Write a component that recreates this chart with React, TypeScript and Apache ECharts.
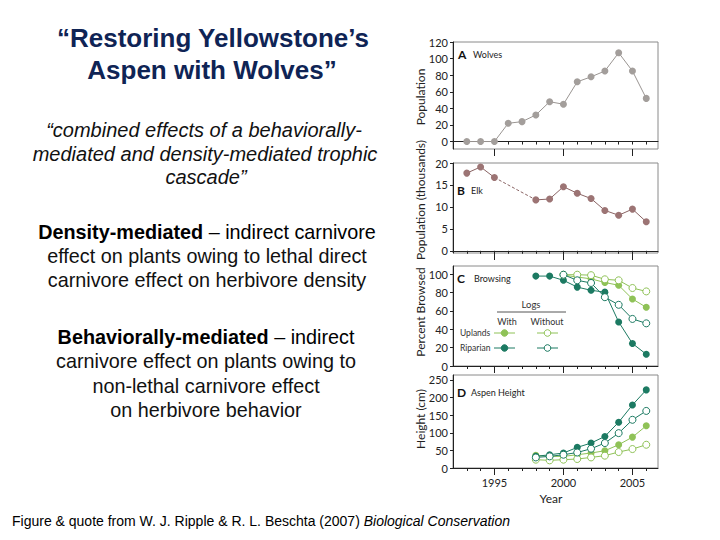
import React, { useEffect, useRef } from "react";
import * as echarts from "echarts";

// ---------- data ----------
const wolfYears = [1993, 1994, 1995, 1996, 1997, 1998, 1999, 2000, 2001, 2002, 2003, 2004, 2005, 2006];
const wolves = [0, 0, 0, 22, 24, 32, 48, 45, 72, 78, 85, 107, 85, 52];

const elkYears = [1993, 1994, 1995, 1998, 1999, 2000, 2001, 2002, 2003, 2004, 2005, 2006];
const elk = [17.7, 19.1, 16.7, 11.6, 11.8, 14.6, 13.1, 11.9, 9.2, 8.1, 9.5, 6.6];

const browseYearsRipWith = [1998, 1999, 2000, 2001, 2002, 2003, 2004, 2005, 2006];
const browseRipWith = [98, 98, 93.4, 86, 82.5, 80.5, 48, 24.5, 12.8];
const browseYears = [2000, 2001, 2002, 2003, 2004, 2005, 2006];
const browseRipWithout = [99.5, 93.4, 90.5, 75, 66.7, 51.3, 46.5];
const browseUpWith = [99, 97, 95, 91, 88, 73, 64];
const browseUpWithout = [99.5, 99.5, 99, 94.5, 93.4, 85, 81.3];

const heightYears = [1998, 1999, 2000, 2001, 2002, 2003, 2004, 2005, 2006];
const heightRipWith = [33, 37.7, 42.5, 58.5, 70.8, 89.6, 130, 179, 221.7];
const heightRipWithout = [30, 33, 37.7, 44, 54.7, 70.8, 99, 136.8, 162];
const heightUpWith = [36, 33, 33, 37.7, 42.5, 49, 66, 87.7, 119.8];
const heightUpWithout = [23.6, 21.7, 23.6, 25.5, 30, 35, 45.3, 53.8, 66];

const yearTicks = [1993, 1994, 1995, 1996, 1997, 1998, 1999, 2000, 2001, 2002, 2003, 2004, 2005, 2006];
const yearMajor = [1995, 2000, 2005];
const wolfTicks = [0, 20, 40, 60, 80, 100, 120];
const elkTicks = [0, 5, 10, 15, 20];
const browseTicks = [0, 20, 40, 60, 80, 100];
const heightTicks = [0, 50, 100, 150, 200, 250];

// ---------- styles ----------
const DARK = "#1c7a62";
const LIGHT = "#8fc257";
const WOLF = "#a39e9b";
const ELK = "#9c7474";
const UI = "'Liberation Sans', Arial, sans-serif";
const CF = "Lato, 'Noto Sans', sans-serif";
const NAVY = "#0f2455";

const pairs = (xs: number[], ys: number[]) => xs.map((x, i) => [x, ys[i]]);

export default function App() {
  const ref = useRef<HTMLDivElement>(null);
  useEffect(() => {
    if (!ref.current) return;
    const chart = echarts.init(ref.current, null, { renderer: "svg" });

    const gridsPx = [
      { top: 42, height: 107 },
      { top: 163, height: 90 },
      { top: 266, height: 100 },
      { top: 375, height: 93 },
    ];
    const yRanges = [
      { min: -9, max: 120, ticks: wolfTicks },
      { min: -0.5, max: 20, ticks: elkTicks },
      { min: 0, max: 109, ticks: browseTicks },
      { min: 0, max: 264, ticks: heightTicks },
    ];

    const grid = gridsPx.map((g) => ({
      left: 453,
      width: 205,
      top: g.top,
      height: g.height,
      show: true,
      borderColor: "#8a8a8a",
      borderWidth: 1,
      backgroundColor: "transparent",
    }));

    const xMain = gridsPx.map((_, i) => ({
      type: "value",
      gridIndex: i,
      min: 1992,
      max: 2006.85,
      axisLine: { show: true, lineStyle: { color: "#222", width: 1 } },
      axisTick: { show: true, customValues: yearTicks, length: 3, lineStyle: { color: "#222" } },
      axisLabel: {
        show: i === 3,
        customValues: yearMajor,
        formatter: (v: number) => String(v),
        fontSize: 11,
        color: "#222",
        fontFamily: CF,
        margin: 9,
      },
      splitLine: { show: false },
    }));
    const xMajor = gridsPx.map((_, i) => ({
      type: "value",
      gridIndex: i,
      min: 1992,
      max: 2006.85,
      position: "bottom",
      axisLine: { show: false },
      axisTick: { show: true, customValues: yearMajor, length: 7, lineStyle: { color: "#222" } },
      axisLabel: { show: false },
      splitLine: { show: false },
    }));

    const yAxis = yRanges.map((r, i) => ({
      type: "value",
      gridIndex: i,
      min: r.min,
      max: r.max,
      axisLine: { show: true, lineStyle: { color: "#222", width: 1 } },
      axisTick: { show: true, customValues: r.ticks, length: 3, lineStyle: { color: "#222" } },
      axisLabel: {
        customValues: r.ticks,
        fontSize: 11,
        color: "#222",
        fontFamily: CF,
        margin: 5,
      },
      splitLine: { show: false },
    }));

    const filled = (name: string, xi: number, data: number[][], color: string, lineColor?: string) => ({
      name,
      type: "line",
      xAxisIndex: xi,
      yAxisIndex: xi,
      data,
      symbol: "circle",
      symbolSize: 7,
      itemStyle: { color },
      lineStyle: { color: lineColor || color, width: 1 },
      z: 3,
    });
    const hollow = (name: string, xi: number, data: number[][], color: string) => ({
      name,
      type: "line",
      xAxisIndex: xi,
      yAxisIndex: xi,
      data,
      symbol: "circle",
      symbolSize: 7,
      itemStyle: { color: "#fff", borderColor: color, borderWidth: 1 },
      lineStyle: { color, width: 1 },
      z: 4,
    });

    // elk: solid where consecutive years, dashed across gaps
    const elkSolid: any[] = [];
    const elkDashed: number[][][] = [];
    elkYears.forEach((y, i) => {
      if (i > 0 && y - elkYears[i - 1] > 1) {
        elkSolid.push([elkYears[i - 1] + 1, null]);
        elkDashed.push([
          [elkYears[i - 1], elk[i - 1]],
          [y, elk[i]],
        ]);
      }
      elkSolid.push([y, elk[i]]);
    });

    const series: any[] = [
      filled("Wolves", 0, pairs(wolfYears, wolves), WOLF, "#9a9592"),
      filled("Elk", 1, elkSolid, ELK, "#8a6464"),
      ...elkDashed.map((d) => ({
        type: "line",
        xAxisIndex: 1,
        yAxisIndex: 1,
        data: d,
        symbol: "none",
        lineStyle: { color: "#8a6464", width: 1, type: [3, 2] },
        z: 2,
      })),
      filled("Uplands with logs", 2, pairs(browseYears, browseUpWith), LIGHT),
      hollow("Uplands without logs", 2, pairs(browseYears, browseUpWithout), LIGHT),
      filled("Riparian with logs", 2, pairs(browseYearsRipWith, browseRipWith), DARK),
      hollow("Riparian without logs", 2, pairs(browseYears, browseRipWithout), DARK),
      hollow("Uplands without logs (height)", 3, pairs(heightYears, heightUpWithout), LIGHT),
      filled("Uplands with logs (height)", 3, pairs(heightYears, heightUpWith), LIGHT),
      hollow("Riparian without logs (height)", 3, pairs(heightYears, heightRipWithout), DARK),
      filled("Riparian with logs (height)", 3, pairs(heightYears, heightRipWith), DARK),
    ];

    const txt = (text: string, x: number, y: number, opts: any = {}) => ({
      type: "text",
      x,
      y,
      rotation: opts.rotation || 0,
      z: 100,
      style: {
        text,
        fill: opts.fill || "#111",
        fontSize: opts.size || 12,
        fontFamily: opts.family || UI,
        fontWeight: opts.weight || "normal",
        fontStyle: opts.style || "normal",
        align: opts.align || "center",
        verticalAlign: "middle",
        rich: opts.rich,
      },
    });

    const BODY = 19.8;
    const bodyRich = {
      b: { fontWeight: "bold", fontSize: BODY, fontFamily: UI, fill: "#000" },
      n: { fontWeight: "normal", fontSize: BODY, fontFamily: UI, fill: "#000" },
    };
    const legendLine = (x1: number, x2: number, y: number, color: string, hollowSym: boolean) => [
      { type: "line", shape: { x1, y1: y, x2, y2: y }, style: { stroke: color, lineWidth: 1 }, z: 100 },
      {
        type: "circle",
        shape: { cx: (x1 + x2) / 2, cy: y, r: 3.3 },
        style: { fill: hollowSym ? "#fff" : color, stroke: color, lineWidth: 1 },
        z: 101,
      },
    ];

    const graphic: any[] = [
      // slide title and text
      txt("\u201CRestoring Yellowstone\u2019s", 213, 38, { size: 26, weight: "bold", fill: NAVY }),
      txt("Aspen with Wolves\u201D", 212, 70, { size: 26, weight: "bold", fill: NAVY }),
      txt("\u201Ccombined effects of a behaviorally-", 204, 130, { size: 20, style: "italic" }),
      txt("mediated and density-mediated trophic", 205, 154, { size: 20, style: "italic" }),
      txt("cascade\u201D", 206, 177, { size: 20, style: "italic" }),
      txt("{b|Density-mediated}{n| \u2013 indirect carnivore}", 207, 232, { rich: bodyRich, size: BODY }),
      txt("effect on plants owing to lethal direct", 207, 256, { size: BODY }),
      txt("carnivore effect on herbivore density", 207, 280, { size: BODY }),
      txt("{b|Behaviorally-mediated}{n| \u2013 indirect}", 206, 337, { rich: bodyRich, size: BODY }),
      txt("carnivore effect on plants owing to", 206, 361, { size: BODY }),
      txt("non-lethal carnivore effect", 206, 386, { size: BODY }),
      txt("on herbivore behavior", 206, 410, { size: BODY }),
      {
        type: "text",
        x: 12,
        y: 521,
        z: 100,
        style: {
          text: "{n|Figure & quote from W. J. Ripple & R. L. Beschta (2007) }{i|Biological Conservation}",
          align: "left",
          verticalAlign: "middle",
          rich: {
            n: { fontSize: 14, fontFamily: UI, fill: "#000" },
            i: { fontSize: 14, fontFamily: UI, fontStyle: "italic", fill: "#000" },
          },
        },
      },
      // axis names
      txt("Population", 420, 97, { size: 12, family: CF, rotation: Math.PI / 2, fill: "#222" }),
      txt("Population (thousands)", 420, 200, { size: 12, family: CF, rotation: Math.PI / 2, fill: "#222" }),
      txt("Percent Browsed", 420, 312, { size: 12, family: CF, rotation: Math.PI / 2, fill: "#222" }),
      txt("Height (cm)", 420, 419, { size: 12, family: CF, rotation: Math.PI / 2, fill: "#222" }),
      txt("Year", 551, 498, { size: 12, family: CF, fill: "#222" }),
      // panel labels
      txt("A", 458, 54, { size: 12, weight: "bold", family: CF, align: "left", fill: "#111" }),
      txt("Wolves", 473, 54, { size: 9, family: CF, align: "left", fill: "#222" }),
      txt("B", 457, 190, { size: 12, weight: "bold", family: CF, align: "left", fill: "#111" }),
      txt("Elk", 471, 190, { size: 9, family: CF, align: "left", fill: "#222" }),
      txt("C", 457, 278, { size: 12, weight: "bold", family: CF, align: "left", fill: "#111" }),
      txt("Browsing", 474, 278, { size: 9, family: CF, align: "left", fill: "#222" }),
      txt("D", 457, 392, { size: 12, weight: "bold", family: CF, align: "left", fill: "#111" }),
      txt("Aspen Height", 471, 392, { size: 9, family: CF, align: "left", fill: "#222" }),
      // legend in panel C
      txt("Logs", 531, 304, { size: 9.5, family: CF, fill: "#333" }),
      { type: "line", shape: { x1: 497, y1: 312, x2: 566, y2: 312 }, style: { stroke: "#555", lineWidth: 1 }, z: 100 },
      txt("With", 507, 321, { size: 9, family: CF, fill: "#333" }),
      txt("Without", 547, 321, { size: 9, family: CF, fill: "#333" }),
      txt("Uplands", 460, 333, { size: 8.5, family: CF, align: "left", fill: "#333" }),
      txt("Riparian", 460, 348, { size: 8.5, family: CF, align: "left", fill: "#333" }),
      ...legendLine(494, 515, 333, LIGHT, false),
      ...legendLine(537, 558, 333, LIGHT, true),
      ...legendLine(494, 515, 348, DARK, false),
      ...legendLine(537, 558, 348, DARK, true),
    ];

    chart.setOption({
      animation: false,
      backgroundColor: "#ffffff",
      grid,
      xAxis: [...xMain, ...xMajor],
      yAxis,
      series,
      graphic,
    } as any);

    return () => chart.dispose();
  }, []);

  return (
    <div
      ref={ref}
      style={{ position: "fixed", left: 0, top: 0, width: 720, height: 540 }}
    />
  );
}
